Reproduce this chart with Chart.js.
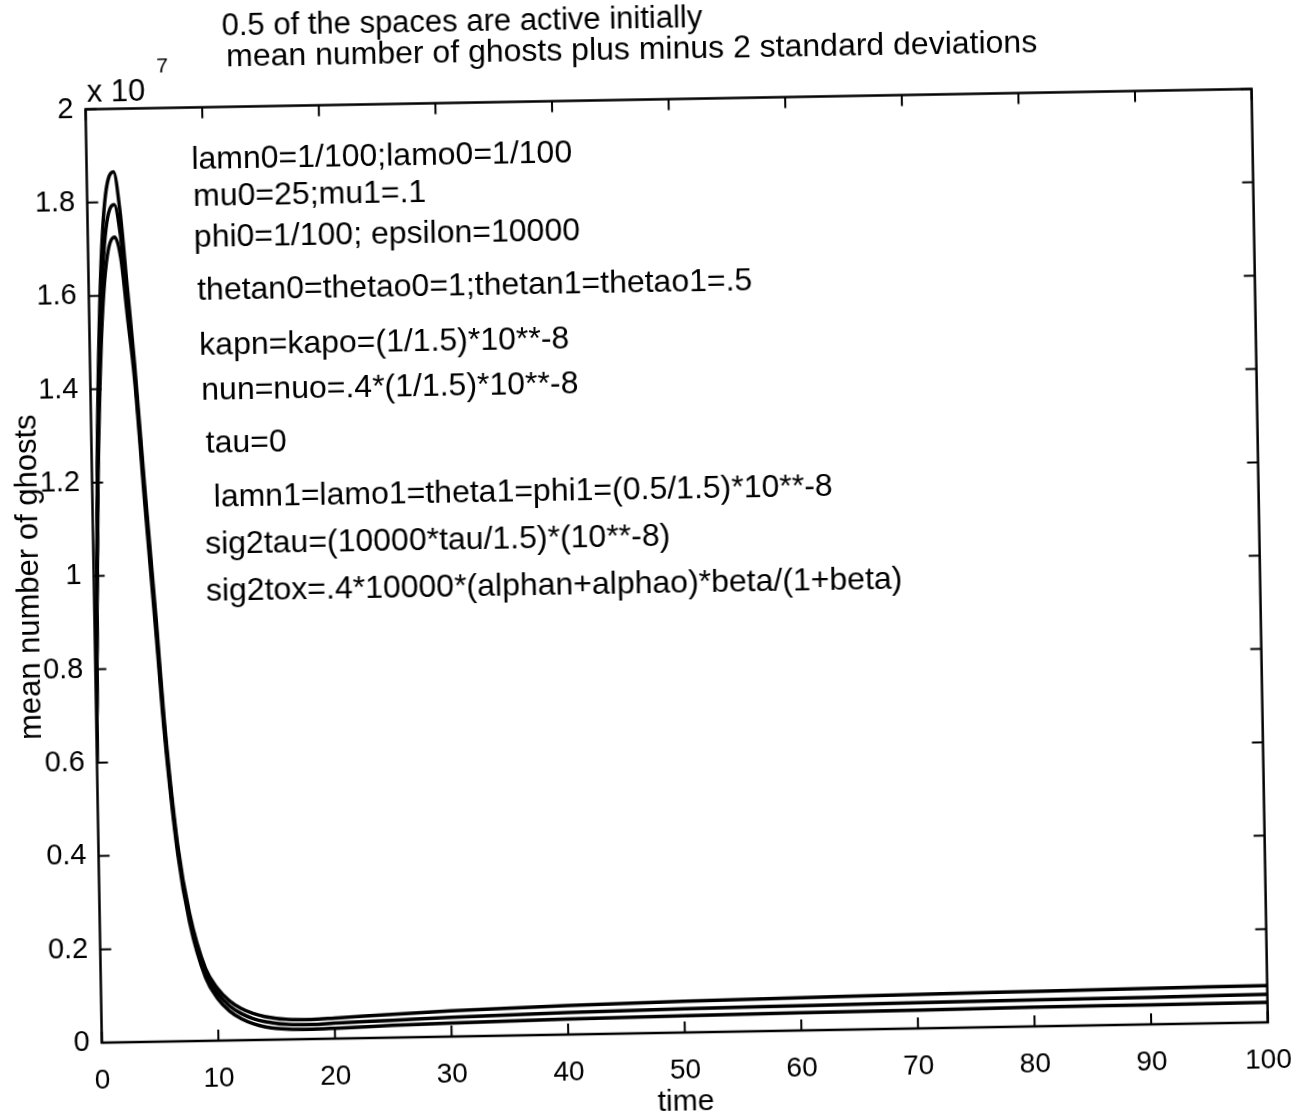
<!DOCTYPE html>
<html>
<head>
<meta charset="utf-8">
<script src="https://cdn.jsdelivr.net/npm/chart.js@4.4.1/dist/chart.umd.min.js"></script>
<style>
  html, body { margin: 0; padding: 0; background: #fff; overflow: hidden; }
  #wrap { width: 1304px; height: 1118px; }
  /* the scanned page is slightly skewed */
  #ghosts { display: block; transform: rotate(-1deg); }
</style>
</head>
<body>
<div id="wrap"><canvas id="ghosts" width="1304" height="1118"></canvas></div>
<script>
// time points (x axis)
var times = [0, 0.25, 0.5, 1, 1.5, 2.3, 2.8, 3.3, 3.8, 4.5, 5.3, 5.8, 6.8, 7.7, 9, 10, 11, 12, 13, 14, 16, 18, 20, 25, 30, 40, 50, 60, 70, 80, 90, 100];
// mean + 2 sd, mean, mean - 2 sd (units of 10^7)
var upperBand = [0.60, 0.98, 1.27, 1.62, 1.80, 1.865, 1.78, 1.62, 1.46, 1.19, 0.90, 0.70, 0.42, 0.275, 0.155, 0.112, 0.085, 0.068, 0.057, 0.050, 0.043, 0.042, 0.044, 0.050, 0.055, 0.062, 0.067, 0.070, 0.073, 0.075, 0.077, 0.079];
var meanGhosts = [0.60, 0.96, 1.23, 1.56, 1.73, 1.795, 1.73, 1.59, 1.44, 1.17, 0.88, 0.685, 0.41, 0.265, 0.145, 0.101, 0.074, 0.057, 0.046, 0.039, 0.032, 0.031, 0.033, 0.037, 0.041, 0.047, 0.051, 0.053, 0.055, 0.057, 0.058, 0.060];
var lowerBand = [0.60, 0.94, 1.19, 1.50, 1.66, 1.725, 1.68, 1.55, 1.42, 1.15, 0.86, 0.67, 0.40, 0.255, 0.135, 0.090, 0.063, 0.046, 0.035, 0.028, 0.022, 0.021, 0.022, 0.026, 0.029, 0.033, 0.036, 0.038, 0.039, 0.041, 0.042, 0.043];

var titleLines = ['0.5 of the spaces are active initially', 'mean number of ghosts plus minus 2 standard deviations'];
var noteLines = [
    'lamn0=1/100;lamo0=1/100',
    'mu0=25;mu1=.1',
    'phi0=1/100; epsilon=10000',
    'thetan0=thetao0=1;thetan1=thetao1=.5',
    'kapn=kapo=(1/1.5)*10**-8',
    'nun=nuo=.4*(1/1.5)*10**-8',
    'tau=0',
    'lamn1=lamo1=theta1=phi1=(0.5/1.5)*10**-8',
    'sig2tau=(10000*tau/1.5)*(10**-8)',
    'sig2tox=.4*10000*(alphan+alphao)*beta/(1+beta)'
];

// where the text() calls put each note, in data units
var noteX = [9.0, 9.1, 9.1, 9.3, 9.4, 9.5, 9.8, 10.4, 9.6, 9.6];
var noteY = [1.888, 1.807, 1.721, 1.607, 1.488, 1.392, 1.279, 1.162, 1.063, 0.962];

var FONT = '"Liberation Sans", Arial, Helvetica, sans-serif';

function toPoints(vals) {
    return times.map(function (t, i) { return { x: t, y: vals[i] }; });
}

// box, inward ticks, title and the text notes, like the matlab figure
var matlabFrame = {
    id: 'matlabFrame',
    afterDatasetsDraw: function (chart) {
        var ctx = chart.ctx;
        var a = chart.chartArea;
        var x = chart.scales.x, y = chart.scales.y;
        ctx.save();
        ctx.strokeStyle = '#000';
        ctx.lineWidth = 2.5;
        ctx.strokeRect(a.left, a.top, a.right - a.left, a.bottom - a.top);

        var tl = 11;
        ctx.lineWidth = 2;
        ctx.beginPath();
        x.ticks.forEach(function (t) {
            var px = x.getPixelForValue(t.value);
            ctx.moveTo(px, a.bottom); ctx.lineTo(px, a.bottom - tl);
            ctx.moveTo(px, a.top); ctx.lineTo(px, a.top + tl);
        });
        y.ticks.forEach(function (t) {
            var py = y.getPixelForValue(t.value);
            ctx.moveTo(a.left, py); ctx.lineTo(a.left + tl, py);
            ctx.moveTo(a.right, py); ctx.lineTo(a.right - tl, py);
        });
        ctx.stroke();

        ctx.fillStyle = '#000';
        ctx.textAlign = 'left';
        ctx.textBaseline = 'middle';
        ctx.font = '32px ' + FONT;
        for (var i = 0; i < noteLines.length; ++i) {
            ctx.fillText(noteLines[i], x.getPixelForValue(noteX[i]), y.getPixelForValue(noteY[i]));
        }

        // title
        ctx.font = '31px ' + FONT;
        ctx.fillText(titleLines[0], 231, 19);
        ctx.font = '32px ' + FONT;
        ctx.fillText(titleLines[1], 235, 50);

        // exponent label
        ctx.font = '31px ' + FONT;
        ctx.fillText('x 10', 95, 83);
        ctx.font = '21px ' + FONT;
        ctx.fillText('7', 165, 58);
        ctx.restore();
    }
};

var lineStyle = {
    borderColor: '#000',
    borderWidth: 3.5,
    pointRadius: 0,
    fill: false,
    cubicInterpolationMode: 'monotone'
};

var ctx = document.getElementById('ghosts').getContext('2d');
var chart = new Chart(ctx, {
    type: 'line',
    data: {
        datasets: [
            Object.assign({ label: 'mean + 2 sd', data: toPoints(upperBand) }, lineStyle),
            Object.assign({ label: 'mean', data: toPoints(meanGhosts) }, lineStyle),
            Object.assign({ label: 'mean - 2 sd', data: toPoints(lowerBand) }, lineStyle)
        ]
    },
    options: {
        responsive: false,
        animation: false,
        devicePixelRatio: 1,
        layout: { padding: { top: 99.5, right: 39, left: 0, bottom: 0 } },
        plugins: {
            legend: { display: false },
            tooltip: { enabled: false }
        },
        scales: {
            x: {
                type: 'linear',
                min: 0,
                max: 100,
                grid: { display: false, drawTicks: false },
                border: { display: false },
                ticks: {
                    stepSize: 10,
                    padding: 21,
                    color: '#000',
                    maxRotation: 0,
                    font: { family: FONT, size: 28 }
                },
                title: {
                    display: true,
                    text: 'time',
                    color: '#000',
                    padding: { top: 0, bottom: 0 },
                    font: { family: FONT, size: 30, lineHeight: 1 }
                },
                afterFit: function (scale) { scale.height = 85; }
            },
            y: {
                min: 0,
                max: 2,
                grid: { display: false, drawTicks: false },
                border: { display: false },
                ticks: {
                    stepSize: 0.2,
                    padding: 12,
                    color: '#000',
                    font: { family: FONT, size: 29 },
                    callback: function (v) { return String(Number(v.toFixed(1))); }
                },
                title: {
                    display: true,
                    text: 'mean number of ghosts',
                    color: '#000',
                    padding: { top: 14, bottom: 0 },
                    font: { family: FONT, size: 31, lineHeight: 1 }
                },
                afterFit: function (scale) { scale.width = 93.5; }
            }
        }
    },
    plugins: [matlabFrame]
});
</script>
</body>
</html>
